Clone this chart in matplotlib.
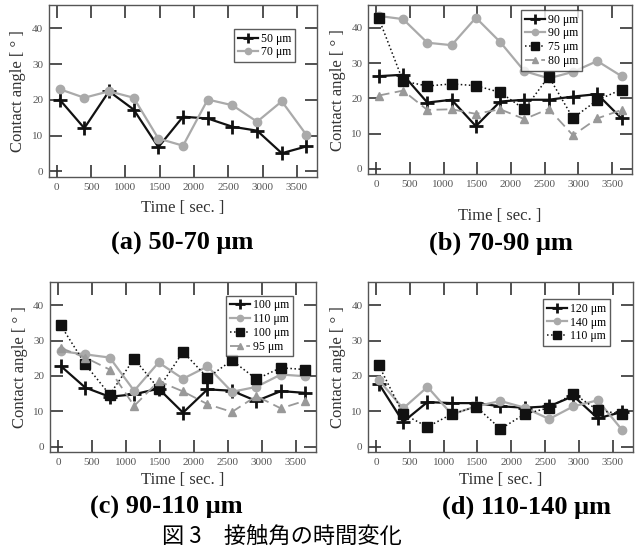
import matplotlib
matplotlib.use('Agg')
import matplotlib.pyplot as plt

plt.rcParams['font.family'] = ['Liberation Serif', 'DejaVu Serif']

# sampling times [sec.]
times = [40, 400, 760, 1120, 1480, 1840, 2200, 2560, 2920, 3280, 3640]

# (a) 50-70 um
a_50 = [20.1, 12.1, 22.4, 17.3, 6.8, 15.3, 14.8, 12.5, 11.4, 5.1, 7.0]
a_70 = [23.0, 20.6, 22.4, 20.6, 9.2, 7.2, 20.1, 18.5, 13.9, 19.6, 10.2]

# (b) 70-90 um
b_90a = [26.3, 26.7, 18.8, 19.6, 12.1, 19.1, 19.6, 19.6, 20.5, 21.2, 14.3]
b_90b = [43.4, 42.5, 35.8, 35.1, 42.9, 36.0, 27.7, 25.7, 27.5, 30.6, 26.3]
b_75 = [42.7, 24.9, 23.5, 24.1, 23.6, 21.7, 16.9, 26.2, 14.4, 19.5, 22.5]
b_80 = [20.8, 22.2, 16.7, 16.9, 15.6, 16.9, 14.1, 17.0, 9.5, 14.3, 16.7]

# (c) 90-110 um
c_100a = [22.8, 16.7, 14.1, 14.8, 16.4, 9.6, 16.2, 15.8, 12.9, 15.7, 15.2]
c_110 = [27.0, 26.1, 25.2, 15.8, 23.8, 19.2, 22.7, 15.5, 16.9, 20.4, 19.9]
c_100b = [34.3, 23.3, 14.7, 24.9, 16.4, 26.8, 19.5, 24.4, 19.1, 22.3, 21.8]
c_95 = [27.9, 25.2, 21.8, 11.5, 18.5, 15.6, 12.0, 9.8, 14.3, 10.8, 13.0]

# (d) 110-140 um
d_120 = [17.8, 7.0, 12.6, 12.3, 12.3, 11.4, 11.0, 11.4, 14.3, 8.0, 9.8]
d_140 = [18.8, 10.8, 16.9, 9.1, 11.4, 12.9, 11.0, 7.8, 11.4, 13.1, 4.7]
d_110 = [23.0, 9.2, 5.6, 9.2, 11.3, 5.0, 9.2, 11.0, 15.0, 10.3, 9.2]

black = '#111111'
gray = '#aaaaaa'
tgray = '#999999'

styles = {
    'plus': dict(color=black, marker='+', markersize=10, markeredgewidth=2, linewidth=1.6, linestyle='-'),
    'circle': dict(color=gray, marker='o', markersize=6, linewidth=1.6, linestyle='-'),
    'square': dict(color=black, marker='s', markersize=7, linewidth=1.1, linestyle=':'),
    'tri': dict(color=tgray, marker='^', markersize=6, linewidth=1.3, linestyle=(0, (6, 3))),
}

# axes rect, subtitle, series, legend anchor, xlabel pad, subtitle position
panels = [
    ([0.076, 0.683, 0.42, 0.308], '(a) 50-70 μm',
     [(a_50, 'plus', '50 μm'), (a_70, 'circle', '70 μm')],
     (0.918, 0.86), 6, (0.285, 0.564)),
    ([0.575, 0.688, 0.413, 0.303], '(b) 70-90 μm',
     [(b_90a, 'plus', '90 μm'), (b_90b, 'circle', '90 μm'),
      (b_75, 'square', '75 μm'), (b_80, 'tri', '80 μm')],
     (0.81, 0.97), 14, (0.782, 0.564)),
    ([0.078, 0.191, 0.416, 0.304], '(c) 90-110 μm',
     [(c_100a, 'plus', '100 μm'), (c_110, 'circle', '110 μm'),
      (c_100b, 'square', '100 μm'), (c_95, 'tri', '95 μm')],
     (0.914, 0.92), 4, (0.26, 0.093)),
    ([0.575, 0.191, 0.414, 0.304], '(d) 110-140 μm',
     [(d_120, 'plus', '120 μm'), (d_140, 'circle', '140 μm'),
      (d_110, 'square', '110 μm')],
     (0.913, 0.9), 4, (0.822, 0.093)),
]

fig = plt.figure(figsize=(6.4, 5.59), dpi=100)

for rect, title, series, anchor, xpad, tpos in panels:
    ax = fig.add_axes(rect)
    for vals, st, lab in series:
        ax.plot(times, vals, label=lab, **styles[st])
    ax.set_xlim(-120, 3800)
    ax.set_ylim(-1.6, 46.5)
    ax.set_xticks([0, 500, 1000, 1500, 2000, 2500, 3000, 3500])
    ax.set_yticks([0, 10, 20, 30, 40])
    ax.tick_params(direction='in', top=True, right=True, length=9, width=1.2,
                   labelsize=8, labelcolor='#555555', color='#333333', pad=4)
    for sp in ax.spines.values():
        sp.set_color('#555555')
        sp.set_linewidth(1.0)
    ax.set_ylabel('Contact angle [ ° ]', fontsize=12, color='#333333', labelpad=4)
    ax.set_xlabel('Time [ sec. ]', fontsize=12, color='#333333', labelpad=xpad)
    leg = ax.legend(loc='upper right', bbox_to_anchor=anchor, borderaxespad=0,
                    fontsize=8.5, frameon=True, fancybox=False, edgecolor='#333333',
                    handlelength=1.7, borderpad=0.3, labelspacing=0.15,
                    handletextpad=0.3, markerscale=0.75)
    leg.get_frame().set_linewidth(1.0)
    fig.text(tpos[0], tpos[1], title, ha='center', va='center',
             fontsize=19, fontweight='bold')

# figure caption
fig.text(0.44, 0.038, '図 3　接触角の時間変化', ha='center', va='center', fontsize=16,
         family=['Noto Sans CJK JP', 'DejaVu Sans'])

fig.savefig('out.png', dpi=100)
